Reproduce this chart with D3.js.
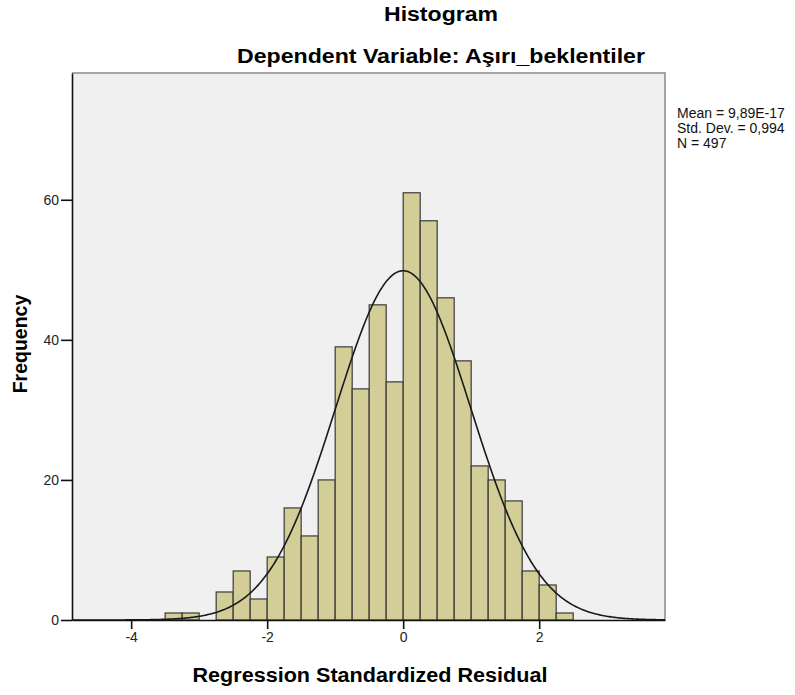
<!DOCTYPE html>
<head>
    <title>Histogram</title>
    <meta charset="utf-8">
    <script src="https://d3js.org/d3.v7.min.js"></script>
</head>

<body>
    <svg class="chart" width="795" height="695"></svg>
</body>

<script>

// bins of the standardized residual (lower edges), and their counts
var binStarts = [-3.5, -3.25, -3.0, -2.75, -2.5, -2.25, -2.0, -1.75, -1.5, -1.25, -1.0, -0.75,
                 -0.5, -0.25, 0.0, 0.25, 0.5, 0.75, 1.0, 1.25, 1.5, 1.75, 2.0, 2.25];
var counts = [1, 1, 0, 4, 7, 3, 9, 16, 12, 20, 39, 33,
              45, 34, 61, 57, 46, 37, 22, 20, 17, 7, 5, 1];
var binWidth = 0.25;

var xTicks = [-4, -2, 0, 2];
var yTicks = [0, 20, 40, 60];

var mean = 9.89e-17, sd = 0.994, n = 497;
var legendLines = ["Mean = 9,89E-17", "Std. Dev. = 0,994", "N = 497"];

var margin = {top: 73, right: 130, bottom: 75, left: 72};
var W = 795, H = 695;

var x = d3.scaleLinear()
    .domain([-4.87, 3.85])
    .range([margin.left, W - margin.right]);

var y = d3.scaleLinear()
    .domain([0, 78.1])
    .range([H - margin.bottom, margin.top]);

var chart = d3.select(".chart")
    .style("background-color", "white")
    .style("font-family", "'Liberation Sans', Arial, sans-serif");

// plot background
chart.append("rect")
    .attr("x", x.range()[0])
    .attr("y", y.range()[1])
    .attr("width", x.range()[1] - x.range()[0])
    .attr("height", y.range()[0] - y.range()[1])
    .style("fill", "#f0f0f0");

// top and right frame (grey)
chart.append("path")
    .attr("d", "M" + x.range()[0] + "," + y.range()[1] + "H" + x.range()[1] + "V" + y.range()[0])
    .style("fill", "none")
    .style("stroke", "#8a8a8a")
    .style("stroke-width", 1.5);

// bars
chart.selectAll("rect.bar")
    .data(counts)
    .enter().append("rect")
    .attr("class", "bar")
    .attr("x", function(d, i) { return x(binStarts[i]); })
    .attr("width", function(d, i) { return x(binStarts[i] + binWidth) - x(binStarts[i]); })
    .attr("y", function(d) { return y(d); })
    .attr("height", function(d) { return y(0) - y(d); })
    .style("fill", function(d) { return d > 0 ? "#d3ce97" : "none"; })
    .style("stroke", function(d) { return d > 0 ? "#3a3a3a" : "none"; })
    .style("stroke-width", 1.2);

// normal curve
var pts = d3.range(x.domain()[0], x.domain()[1] + 0.001, 0.02);
var norm = function(v) {
    return n * binWidth * Math.exp(-0.5 * Math.pow((v - mean) / sd, 2)) / (sd * Math.sqrt(2 * Math.PI));
};
chart.append("path")
    .datum(pts)
    .attr("d", d3.line().x(function(d) { return x(d); }).y(function(d) { return y(norm(d)); }))
    .style("fill", "none")
    .style("stroke", "#1a1a1a")
    .style("stroke-width", 1.6);

// axes
var yAxis = d3.axisLeft(y).tickValues(yTicks).tickSize(11).tickSizeOuter(0).tickPadding(2);
var xAxis = d3.axisBottom(x).tickValues(xTicks).tickSize(9).tickSizeOuter(0).tickPadding(3)
    .tickFormat(function(d) { return d < 0 ? "-" + Math.abs(d) : d; });

var gy = chart.append("g").attr("transform", "translate(" + margin.left + ",0)").call(yAxis);
var gx = chart.append("g").attr("transform", "translate(0," + (H - margin.bottom) + ")").call(xAxis);

[gx, gy].forEach(function(g) {
    g.select(".domain").style("stroke", "#111").style("stroke-width", 1.6);
    g.selectAll(".tick line").style("stroke", "#111").style("stroke-width", 1.6);
    g.selectAll(".tick text")
        .style("font-family", "'Liberation Sans', Arial, sans-serif")
        .style("font-size", "14px")
        .style("fill", "#222");
});

// titles
chart.append("text")
    .attr("x", 441).attr("y", 21)
    .attr("text-anchor", "middle")
    .attr("textLength", 114).attr("lengthAdjust", "spacingAndGlyphs")
    .style("font", "bold 19.5px 'Liberation Sans', Arial, sans-serif")
    .text("Histogram");

chart.append("text")
    .attr("x", 441).attr("y", 63)
    .attr("text-anchor", "middle")
    .attr("textLength", 408).attr("lengthAdjust", "spacingAndGlyphs")
    .style("font", "bold 19.5px 'Liberation Sans', Arial, sans-serif")
    .text("Dependent Variable: Aşırı_beklentiler");

chart.append("text")
    .attr("x", 370).attr("y", 682)
    .attr("text-anchor", "middle")
    .attr("textLength", 355).attr("lengthAdjust", "spacingAndGlyphs")
    .style("font", "bold 19.5px 'Liberation Sans', Arial, sans-serif")
    .text("Regression Standardized Residual");

chart.append("text")
    .attr("transform", "translate(27,344) rotate(-90)")
    .attr("text-anchor", "middle")
    .style("font", "bold 19.5px 'Liberation Sans', Arial, sans-serif")
    .text("Frequency");

// stats legend
chart.selectAll("text.legend")
    .data(legendLines)
    .enter().append("text")
    .attr("class", "legend")
    .attr("x", 677)
    .attr("y", function(d, i) { return 118 + i * 15; })
    .style("font", "14px 'Liberation Sans', Arial, sans-serif")
    .style("fill", "#111")
    .text(function(d) { return d; });

</script>

<style>
    body { margin: 0; }
</style>
